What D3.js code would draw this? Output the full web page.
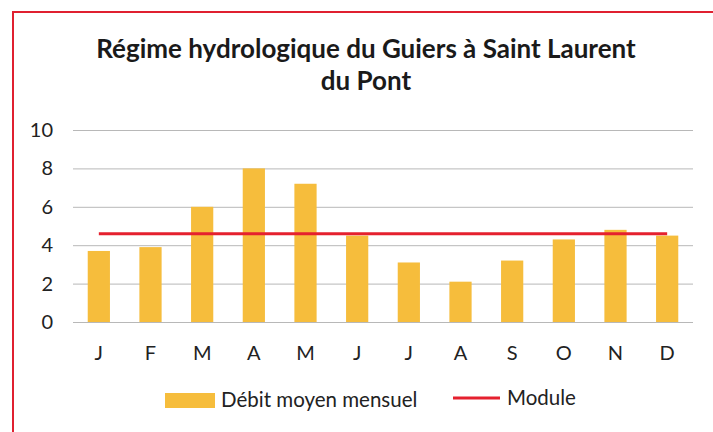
<!DOCTYPE html>
<html><head><meta charset="utf-8">
<script src="https://cdn.jsdelivr.net/npm/d3@7"></script>
<style>body{margin:0;background:#fff}svg{display:block}</style>
</head><body><svg id="c" width="713" height="432"></svg>
<script>
const months = ["J","F","M","A","M","J","J","A","S","O","N","D"];
const debit = [3.7, 3.9, 6.0, 8.0, 7.2, 4.5, 3.1, 2.1, 3.2, 4.3, 4.8, 4.5];
const moduleVal = 4.6;
const yTicks = [0, 2, 4, 6, 8, 10];
const titleLines = ["Régime hydrologique du Guiers à Saint Laurent", "du Pont"];
const legendLabels = ["Débit moyen mensuel", "Module"];

const svg = d3.select("#c");
const font = "Lato, 'Open Sans', sans-serif";
const W = 713, H = 432;
const m = {left: 73, right: 693, top: 130, bottom: 322};

svg.append("rect").attr("x", 13).attr("y", 12).attr("width", W + 10).attr("height", H + 10)
  .attr("fill", "#fff").attr("stroke", "#e02030").attr("stroke-width", 2);

svg.append("g").selectAll("text").data(titleLines).join("text")
  .attr("x", 366).attr("y", (d, i) => 58 + i * 32)
  .attr("text-anchor", "middle").attr("font-family", font).attr("font-weight", 700)
  .attr("font-size", 26).attr("fill", "#1a1a1a").text(d => d);

const x = d3.scaleBand().domain(d3.range(months.length)).range([m.left, m.right]).paddingInner(0.57).paddingOuter(0.285);
const y = d3.scaleLinear().domain([0, 10]).range([m.bottom, m.top]);

const grid = svg.append("g");
grid.selectAll("line").data(yTicks).join("line")
  .attr("x1", m.left).attr("x2", m.right)
  .attr("y1", d => y(d) + 0.5).attr("y2", d => y(d) + 0.5)
  .attr("stroke", "#b8b8b8").attr("stroke-width", 1);

const yAxis = d3.axisLeft(y).tickValues(yTicks).tickSize(0).tickPadding(0);
const ya = svg.append("g").attr("transform", `translate(${m.left - 20},0)`).call(yAxis);
ya.select(".domain").remove();
ya.selectAll("text").attr("font-family", font).attr("font-size", 20).attr("fill", "#222");

svg.append("g").selectAll("rect").data(debit).join("rect")
  .attr("x", (d, i) => x(i)).attr("width", x.bandwidth())
  .attr("y", d => y(d)).attr("height", d => y(0) - y(d))
  .attr("fill", "#f6bd3c");

const xAxis = d3.axisBottom(x).tickFormat(i => months[i]).tickSize(0).tickPadding(0);
const xa = svg.append("g").attr("transform", `translate(0,${m.bottom + 24})`).call(xAxis);
xa.select(".domain").remove();
xa.selectAll("text").attr("font-family", font).attr("font-size", 20).attr("fill", "#222");

const lineGen = d3.line().x(d => x(d[0]) + x.bandwidth() / 2).y(d => y(d[1]));
svg.append("path").datum([[0, moduleVal], [months.length - 1, moduleVal]])
  .attr("d", lineGen).attr("fill", "none").attr("stroke", "#e5202e").attr("stroke-width", 3);

const lg = svg.append("g");
lg.append("rect").attr("x", 165).attr("y", 393).attr("width", 50).attr("height", 15).attr("fill", "#f6bd3c");
lg.append("text").attr("x", 221).attr("y", 407).attr("font-family", font).attr("font-size", 20.5).attr("fill", "#222").text(legendLabels[0]);
lg.append("line").attr("x1", 453).attr("x2", 500).attr("y1", 398).attr("y2", 398).attr("stroke", "#e5202e").attr("stroke-width", 3);
lg.append("text").attr("x", 507).attr("y", 405).attr("font-family", font).attr("font-size", 20.5).attr("fill", "#222").text(legendLabels[1]);
</script></body></html>
